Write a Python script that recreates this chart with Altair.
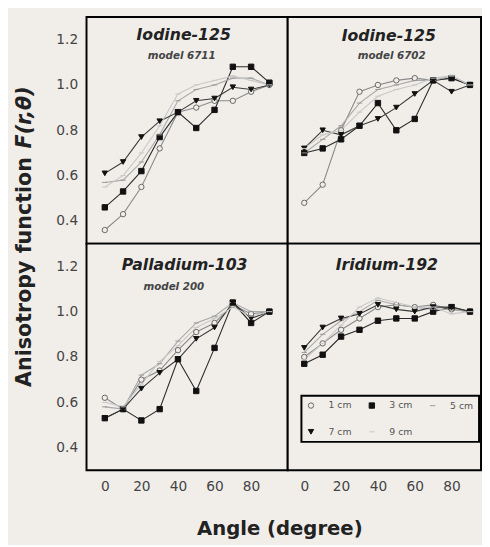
import altair as alt
import pandas as pd

angles = [0, 10, 20, 30, 40, 50, 60, 70, 80, 90]
series_names = ["1 cm", "3 cm", "5 cm", "7 cm", "9 cm"]

# Iodine-125, model 6711
i6711_1cm = [0.36, 0.43, 0.55, 0.72, 0.88, 0.90, 0.93, 0.93, 0.97, 1.00]
i6711_3cm = [0.46, 0.53, 0.62, 0.77, 0.88, 0.81, 0.89, 1.08, 1.08, 1.01]
i6711_5cm = [0.57, 0.58, 0.66, 0.78, 0.93, 0.98, 1.00, 1.03, 1.03, 1.00]
i6711_7cm = [0.61, 0.66, 0.77, 0.84, 0.88, 0.93, 0.94, 0.99, 0.98, 1.00]
i6711_9cm = [0.55, 0.60, 0.70, 0.82, 0.96, 1.00, 1.02, 1.04, 1.02, 1.00]

# Iodine-125, model 6702
i6702_1cm = [0.48, 0.56, 0.80, 0.97, 1.00, 1.02, 1.03, 1.02, 1.03, 1.00]
i6702_3cm = [0.70, 0.72, 0.76, 0.82, 0.92, 0.80, 0.85, 1.02, 1.03, 1.00]
i6702_5cm = [0.70, 0.76, 0.82, 0.92, 0.98, 1.00, 1.02, 1.02, 1.04, 1.00]
i6702_7cm = [0.72, 0.80, 0.78, 0.82, 0.85, 0.90, 0.96, 1.02, 0.97, 1.00]
i6702_9cm = [0.72, 0.78, 0.80, 0.88, 0.95, 0.98, 1.00, 1.03, 1.04, 1.00]

# Palladium-103, model 200
pd200_1cm = [0.62, 0.57, 0.70, 0.74, 0.83, 0.91, 0.95, 1.03, 0.99, 1.00]
pd200_3cm = [0.53, 0.57, 0.52, 0.57, 0.79, 0.65, 0.84, 1.04, 0.95, 1.00]
pd200_5cm = [0.58, 0.57, 0.72, 0.77, 0.87, 0.95, 0.98, 1.04, 1.00, 1.00]
pd200_7cm = [0.53, 0.57, 0.66, 0.73, 0.79, 0.88, 0.93, 1.04, 0.97, 1.00]
pd200_9cm = [0.60, 0.58, 0.68, 0.78, 0.85, 0.93, 0.97, 1.02, 0.98, 1.00]

# Iridium-192
ir192_1cm = [0.80, 0.86, 0.92, 0.97, 1.02, 1.03, 1.02, 1.03, 1.01, 1.00]
ir192_3cm = [0.77, 0.81, 0.89, 0.92, 0.96, 0.97, 0.97, 1.00, 1.02, 1.00]
ir192_5cm = [0.82, 0.90, 0.96, 1.00, 1.05, 1.03, 1.02, 1.01, 1.01, 1.00]
ir192_7cm = [0.84, 0.93, 0.97, 0.99, 1.03, 1.01, 1.00, 1.02, 1.02, 1.00]
ir192_9cm = [0.79, 0.86, 0.94, 1.02, 1.06, 1.04, 1.02, 1.02, 0.99, 1.00]

y_ticks = [0.4, 0.6, 0.8, 1.0, 1.2]
x_ticks = [0, 20, 40, 60, 80]

BG = "#f1eeea"
FONT = "DejaVu Sans"


def make_df(lists):
    rows = []
    for name, vals in zip(series_names, lists):
        for a, v in zip(angles, vals):
            rows.append({"series": name, "angle": a, "value": v})
    return pd.DataFrame(rows)


line_colors = ["#8a8a8a", "#2a2a2a", "#a8a8a8", "#3a3a3a", "#c8c8c8"]
pt_shapes = ["circle", "square", "stroke", "triangle-down", "stroke"]
pt_fills = [BG, "#111111", "#999999", "#111111", "#c8c8c8"]
pt_strokes = ["#666666", "#111111", "#999999", "#111111", "#c8c8c8"]

the_legend = alt.Legend(
    orient="none", legendX=14, legendY=155, direction="horizontal", columns=3,
    title=None, strokeColor="black", padding=5, labelFontSize=9.5, labelColor="#555555",
    labelFont=FONT, symbolSize=30, symbolStrokeWidth=1, columnPadding=15,
    rowPadding=16, labelOffset=13, fillColor=BG,
)


def panel(lists, w, xdom, show_x, show_y, texts, with_legend):
    df = make_df(lists)
    base = alt.Chart(df)
    xs = alt.Scale(domain=xdom, nice=False, zero=False)
    ys = alt.Scale(domain=[0.3, 1.3], nice=False, zero=False)
    xa = alt.Axis(values=x_ticks, labels=show_x, ticks=False, domain=False, grid=False,
                  title=None, labelFontSize=14, labelColor="#444444", labelFont=FONT,
                  labelPadding=10)
    ya = alt.Axis(values=y_ticks, labels=show_y, ticks=False, domain=False, grid=False,
                  title=None, format=".1f", labelFontSize=14, labelColor="#444444",
                  labelFont=FONT, labelPadding=9)
    x = alt.X("angle:Q", scale=xs, axis=xa)
    y = alt.Y("value:Q", scale=ys, axis=ya)
    leg = the_legend if with_legend else None
    lines = base.mark_line(strokeWidth=1.1).encode(
        x=x, y=y,
        color=alt.Color("series:N", scale=alt.Scale(domain=series_names, range=line_colors), legend=None),
    )
    pts = base.mark_point(strokeWidth=1, size=30, opacity=1).encode(
        x=x, y=y,
        shape=alt.Shape("series:N", scale=alt.Scale(domain=series_names, range=pt_shapes), legend=leg),
        fill=alt.Fill("series:N", scale=alt.Scale(domain=series_names, range=pt_fills), legend=leg),
        stroke=alt.Stroke("series:N", scale=alt.Scale(domain=series_names, range=pt_strokes), legend=leg),
    )
    layers = [lines, pts]
    for t in texts:
        tdf = pd.DataFrame({"t": [t["text"]]})
        layers.append(
            alt.Chart(tdf).mark_text(
                font=FONT, fontSize=t["size"], fontWeight="bold", fontStyle=t.get("style", "italic"),
                color=t.get("color", "#222222"), align=t.get("align", "center"),
                baseline="middle", angle=t.get("angle", 0),
            ).encode(text="t:N", x=alt.value(t["x"]), y=alt.value(t["y"]))
        )
    return alt.layer(*layers).properties(width=w, height=231)


tl = panel(
    [i6711_1cm, i6711_3cm, i6711_5cm, i6711_7cm, i6711_9cm], 205, [-10, 100], False, True,
    [
        {"text": "Iodine-125", "size": 16, "x": 99, "y": 19},
        {"text": "model 6711", "size": 10.5, "x": 97, "y": 40, "color": "#444444"},
        {"text": "Anisotropy function", "size": 21, "x": -63, "y": 377, "angle": 270,
         "align": "left", "style": "normal"},
        {"text": "F(r,θ)", "size": 21, "x": -63, "y": 134, "angle": 270, "align": "left"},
    ],
    False,
)
tr = panel(
    [i6702_1cm, i6702_3cm, i6702_5cm, i6702_7cm, i6702_9cm], 197, [-9, 96], False, False,
    [
        {"text": "Iodine-125", "size": 16, "x": 103, "y": 20},
        {"text": "model 6702", "size": 10.5, "x": 106, "y": 40, "color": "#444444"},
    ],
    False,
)
bl = panel(
    [pd200_1cm, pd200_3cm, pd200_5cm, pd200_7cm, pd200_9cm], 205, [-10, 100], True, True,
    [
        {"text": "Palladium-103", "size": 16, "x": 100, "y": 22},
        {"text": "model 200", "size": 10.5, "x": 89, "y": 44, "color": "#444444"},
        {"text": "Angle (degree)", "size": 20, "x": 197, "y": 291, "style": "normal"},
    ],
    False,
)
br = panel(
    [ir192_1cm, ir192_3cm, ir192_5cm, ir192_7cm, ir192_9cm], 197, [-9, 96], True, False,
    [
        {"text": "Iridium-192", "size": 16, "x": 101, "y": 22},
    ],
    True,
)

chart = alt.concat(tl, tr, bl, br, columns=2, spacing=0, bounds="flush").resolve_legend(
    shape="independent", fill="independent", stroke="independent"
).resolve_scale(
    shape="independent", fill="independent", stroke="independent"
).properties(
    background=BG,
    padding={"left": 4, "top": 3, "right": 0, "bottom": 0},
).configure_view(
    stroke="black", strokeWidth=2, fill=BG
).configure_legend(
    strokeWidth=2
)

chart.save("out.html", embed_options={"renderer": "svg", "actions": False})
